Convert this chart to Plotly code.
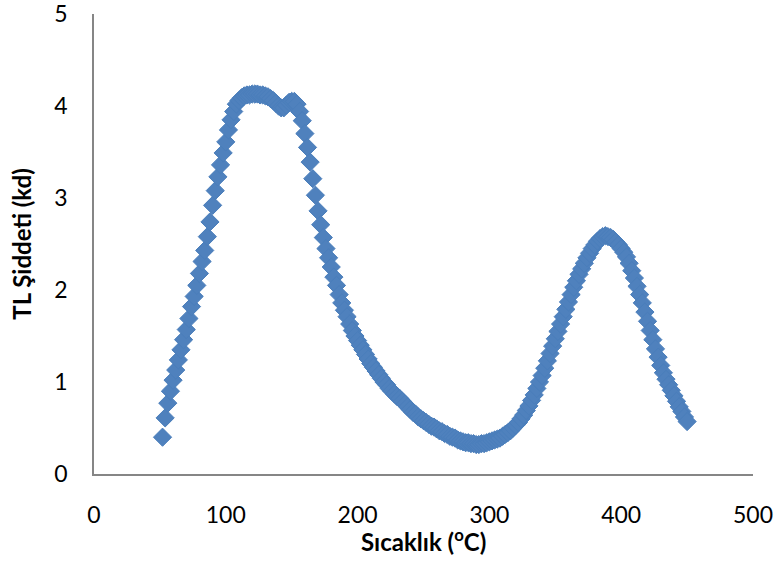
import plotly.graph_objects as go

# Temperature (°C), evenly spaced readings
sicaklik = [
    52, 54, 56, 58, 60, 62, 64, 66, 68, 70, 72, 74, 76, 78, 80, 82, 84, 86, 88, 90,
    92, 94, 96, 98, 100, 102, 104, 106, 108, 110, 112, 114, 116, 118, 120, 122, 124, 126, 128, 130,
    132, 134, 136, 138, 140, 142, 144, 146, 148, 150, 152, 154, 156, 158, 160, 162, 164, 166, 168, 170,
    172, 174, 176, 178, 180, 182, 184, 186, 188, 190, 192, 194, 196, 198, 200, 202, 204, 206, 208, 210,
    212, 214, 216, 218, 220, 222, 224, 226, 228, 230, 232, 234, 236, 238, 240, 242, 244, 246, 248, 250,
    252, 254, 256, 258, 260, 262, 264, 266, 268, 270, 272, 274, 276, 278, 280, 282, 284, 286, 288, 290,
    292, 294, 296, 298, 300, 302, 304, 306, 308, 310, 312, 314, 316, 318, 320, 322, 324, 326, 328, 330,
    332, 334, 336, 338, 340, 342, 344, 346, 348, 350, 352, 354, 356, 358, 360, 362, 364, 366, 368, 370,
    372, 374, 376, 378, 380, 382, 384, 386, 388, 390, 392, 394, 396, 398, 400, 402, 404, 406, 408, 410,
    412, 414, 416, 418, 420, 422, 424, 426, 428, 430, 432, 434, 436, 438, 440, 442, 444, 446, 448, 450,
]

# TL intensity (kd)
tl_siddeti = [
    0.40, 0.61, 0.77, 0.90, 1.02, 1.13, 1.24, 1.35, 1.46, 1.57, 1.69, 1.82, 1.93, 2.05, 2.18, 2.31, 2.43, 2.58, 2.74, 2.92,
    3.08, 3.23, 3.36, 3.49, 3.61, 3.74, 3.85, 3.94, 4.02, 4.06, 4.09, 4.11, 4.12, 4.12, 4.13, 4.13, 4.13, 4.12, 4.12, 4.11,
    4.10, 4.08, 4.06, 4.03, 4.00, 3.98, 3.98, 4.01, 4.04, 4.05, 4.05, 4.02, 3.94, 3.84, 3.70, 3.55, 3.39, 3.21, 3.03, 2.86,
    2.71, 2.57, 2.45, 2.35, 2.25, 2.14, 2.05, 1.95, 1.86, 1.78, 1.71, 1.63, 1.56, 1.50, 1.45, 1.40, 1.35, 1.30, 1.25, 1.20,
    1.16, 1.12, 1.08, 1.04, 1.00, 0.97, 0.93, 0.90, 0.87, 0.84, 0.82, 0.79, 0.76, 0.73, 0.70, 0.67, 0.65, 0.62, 0.60, 0.58,
    0.56, 0.54, 0.52, 0.51, 0.49, 0.47, 0.46, 0.44, 0.43, 0.41, 0.40, 0.39, 0.37, 0.36, 0.35, 0.34, 0.34, 0.33, 0.33, 0.32,
    0.32, 0.33, 0.33, 0.34, 0.35, 0.36, 0.37, 0.38, 0.39, 0.41, 0.43, 0.45, 0.47, 0.50, 0.53, 0.56, 0.60, 0.64, 0.69, 0.74,
    0.80, 0.86, 0.93, 1.00, 1.07, 1.15, 1.23, 1.31, 1.39, 1.47, 1.55, 1.63, 1.71, 1.79, 1.87, 1.95, 2.03, 2.10, 2.17, 2.23,
    2.29, 2.35, 2.40, 2.45, 2.49, 2.53, 2.56, 2.58, 2.59, 2.58, 2.57, 2.55, 2.52, 2.49, 2.45, 2.41, 2.36, 2.29, 2.21, 2.13,
    2.04, 1.95, 1.86, 1.76, 1.66, 1.56, 1.46, 1.36, 1.27, 1.18, 1.10, 1.03, 0.97, 0.91, 0.85, 0.79, 0.73, 0.68, 0.62, 0.57,
]

x_ticks = [0, 100, 200, 300, 400, 500]
y_ticks = [0, 1, 2, 3, 4, 5]

x_title = "Sıcaklık (<sup>o</sup>C)"
y_title = "TL Şiddeti (kd)"

FONT = "Lato, 'Open Sans', sans-serif"

fig = go.Figure(
    go.Scatter(
        x=sicaklik,
        y=tl_siddeti,
        mode="markers",
        marker=dict(symbol="diamond", size=14, color="#4F81BD",
                    line=dict(color="#4A7EBB", width=1)),
        showlegend=False,
        cliponaxis=False,
    )
)

fig.update_layout(
    width=782,
    height=588,
    margin=dict(l=94, r=29, t=14, b=114, autoexpand=False),
    paper_bgcolor="white",
    plot_bgcolor="white",
    font=dict(family=FONT, color="#000000"),
    annotations=[
        dict(
            text=x_title,
            xref="paper", yref="paper",
            x=0.5, y=-0.143,
            xanchor="center", yanchor="middle",
            showarrow=False,
            font=dict(size=24, family=FONT, weight="bold", color="#000000"),
        )
    ],
)

fig.update_xaxes(
    range=[0, 500],
    tickvals=x_ticks,
    ticktext=[str(v) for v in x_ticks],
    showgrid=False,
    zeroline=False,
    showline=True,
    linecolor="#868686",
    linewidth=1.5,
    ticks="",
    automargin=False,
    ticklabelstandoff=20,
    ticklabeloverflow="allow",
    tickfont=dict(size=23, family=FONT, color="#000000"),
)

fig.update_yaxes(
    range=[0, 5],
    tickvals=y_ticks,
    ticktext=[str(v) for v in y_ticks],
    showgrid=False,
    zeroline=False,
    showline=True,
    linecolor="#868686",
    linewidth=1.5,
    ticks="",
    automargin=False,
    ticklabelstandoff=20,
    ticklabeloverflow="allow",
    tickfont=dict(size=23, family=FONT, color="#000000"),
    title=dict(text=y_title, font=dict(size=24, family=FONT, weight="bold", color="#000000"),
               standoff=16),
)

fig.write_html("out.html")
